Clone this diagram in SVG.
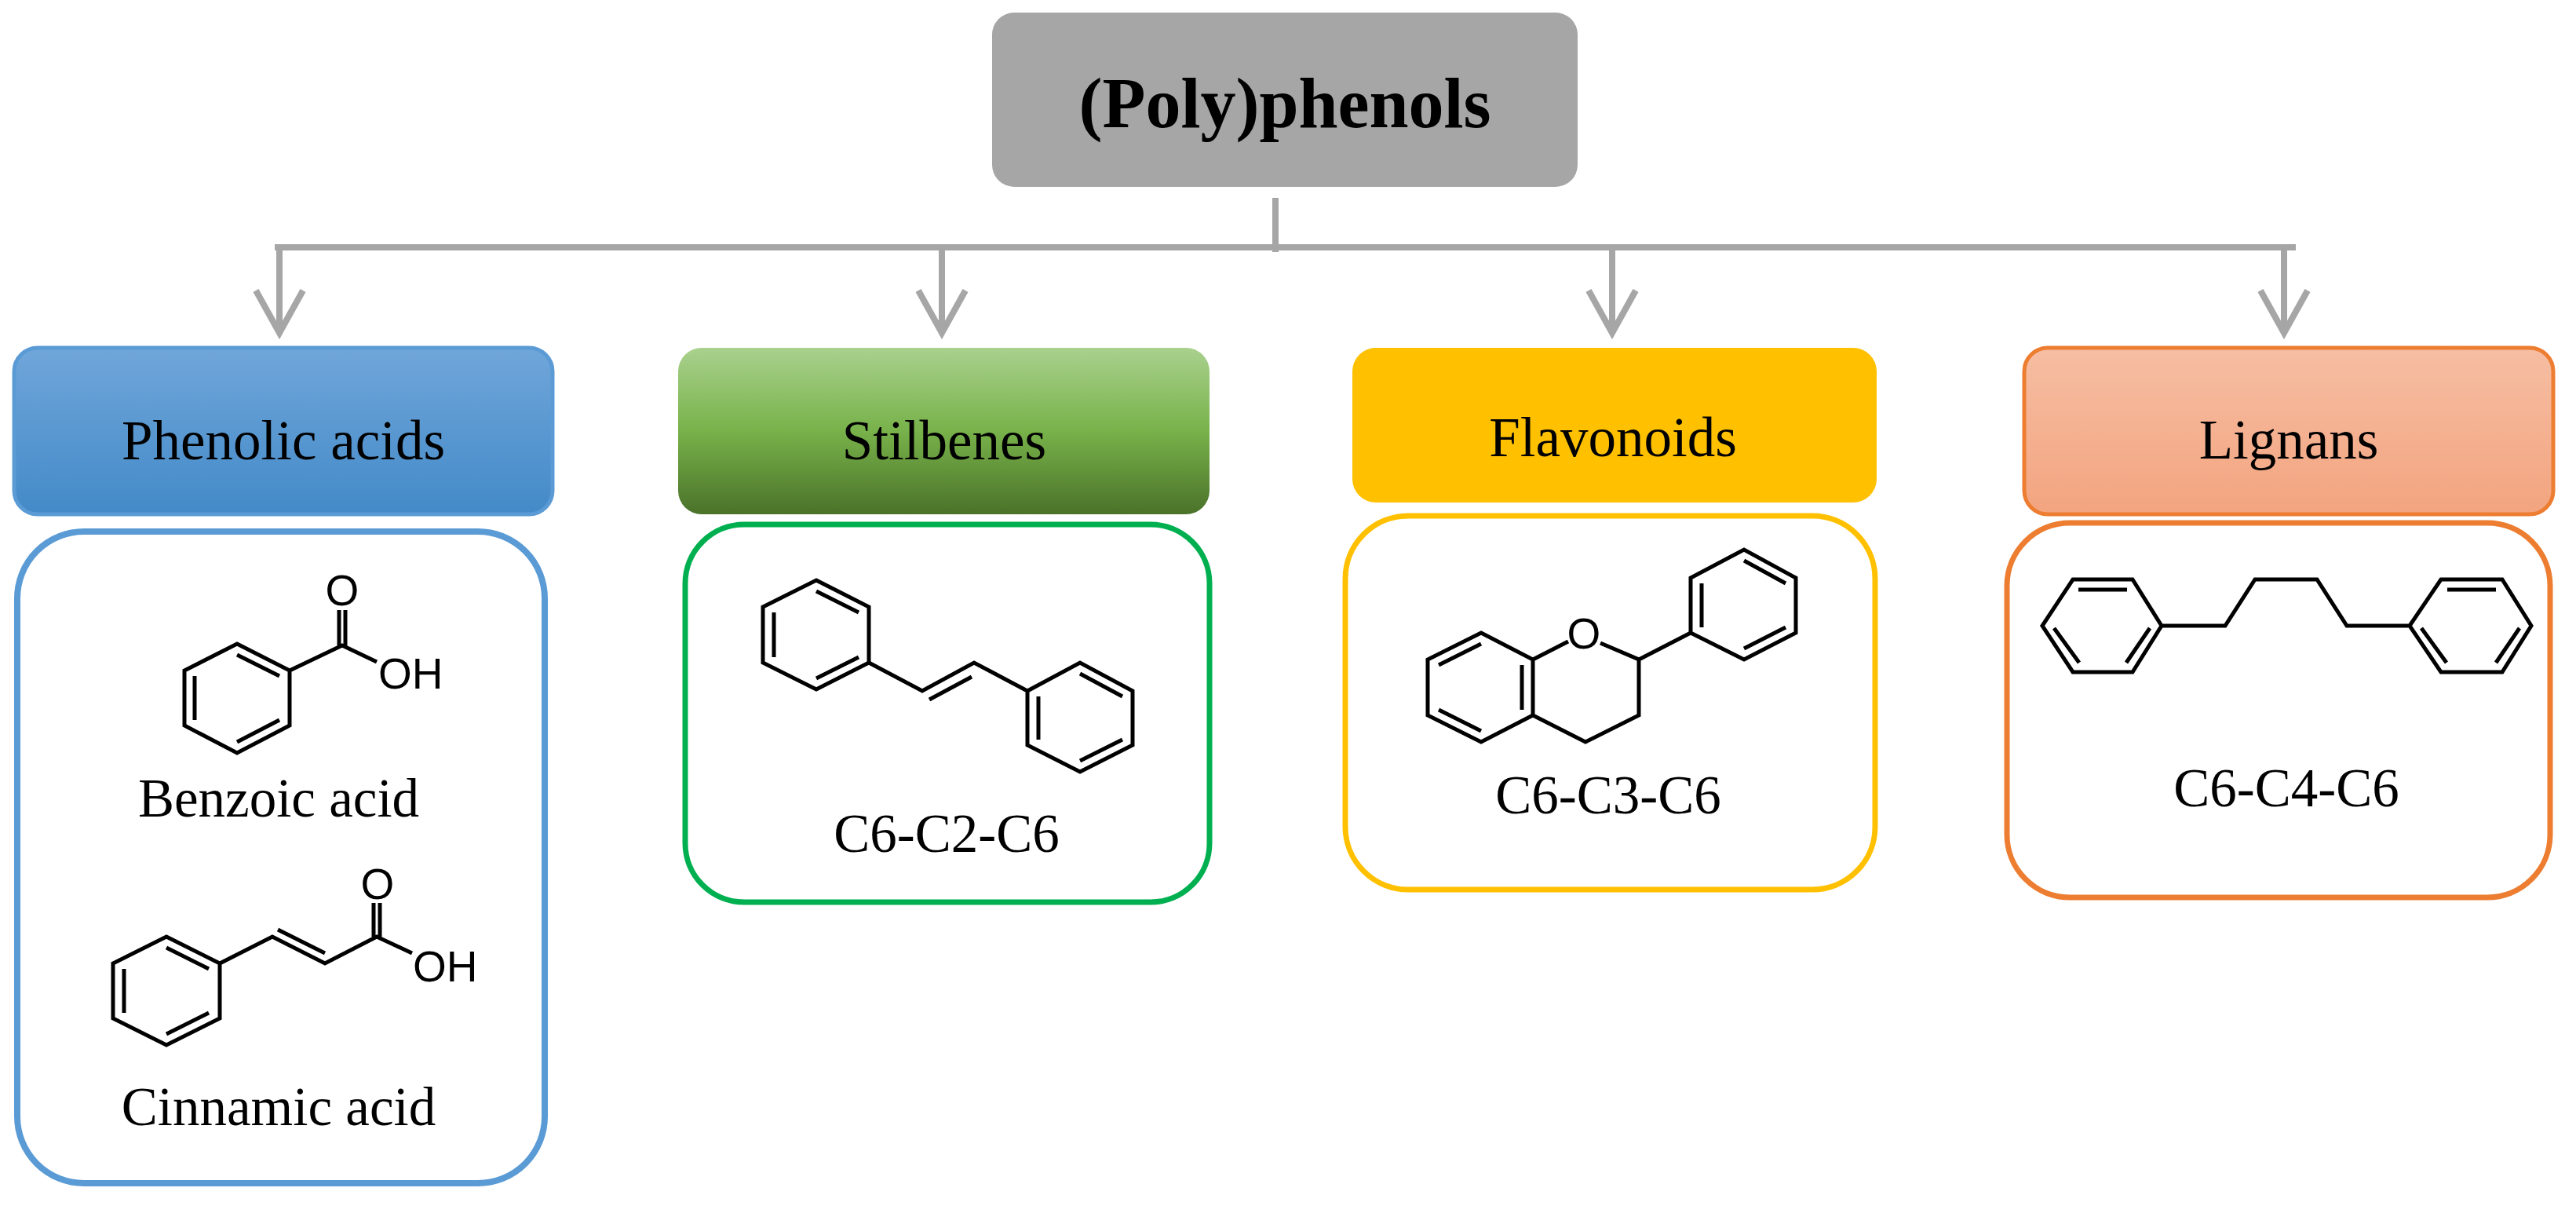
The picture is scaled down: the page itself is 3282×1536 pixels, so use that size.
<svg xmlns="http://www.w3.org/2000/svg" width="3282" height="1536" viewBox="0 0 3282 1536">
<defs>
<linearGradient id="gb" x1="0" y1="0" x2="0" y2="1"><stop offset="0" stop-color="#70a6da"/><stop offset="1" stop-color="#438ac8"/></linearGradient>
<linearGradient id="gg" x1="0" y1="0" x2="0" y2="1"><stop offset="0" stop-color="#a9d18e"/><stop offset="0.5" stop-color="#78b24a"/><stop offset="1" stop-color="#4a7229"/></linearGradient>
<linearGradient id="go" x1="0" y1="0" x2="0" y2="1"><stop offset="0" stop-color="#f6bea3"/><stop offset="1" stop-color="#f3a47f"/></linearGradient>
</defs>
<style>
.hd{font-family:"Liberation Serif",serif;font-size:71px;fill:#000;text-anchor:middle}
.lb{font-family:"Liberation Serif",serif;font-size:69px;fill:#000;text-anchor:middle}
.at{font-family:"Liberation Sans",Arial,sans-serif;font-size:55px;fill:#000}
.m{fill:none;stroke:#000;stroke-width:5;stroke-linejoin:miter;stroke-linecap:butt}
.cn{fill:none;stroke:#a6a6a6;stroke-width:8}
</style>
<rect width="3282" height="1536" fill="#fff"/>
<g id="root">
<rect x="1264" y="16" width="746" height="222" rx="28" fill="#a6a6a6"/>
<text x="1637" y="162" font-family="Liberation Serif,serif" font-weight="bold" font-size="90" text-anchor="middle">(Poly)phenols</text>
</g>
<g id="connectors">
<line x1="1625" y1="252" x2="1625" y2="321" class="cn" stroke-width="12"/>
<line x1="350" y1="315" x2="2925" y2="315" class="cn" stroke-width="12"/>
<line x1="356" y1="315" x2="356" y2="422" class="cn"/>
<polyline points="326,370 356,424 386,370" class="cn" stroke-width="9"/>
<line x1="1200" y1="315" x2="1200" y2="422" class="cn"/>
<polyline points="1170,370 1200,424 1230,370" class="cn" stroke-width="9"/>
<line x1="2054" y1="315" x2="2054" y2="422" class="cn"/>
<polyline points="2024,370 2054,424 2084,370" class="cn" stroke-width="9"/>
<line x1="2910" y1="315" x2="2910" y2="422" class="cn"/>
<polyline points="2880,370 2910,424 2940,370" class="cn" stroke-width="9"/>
</g>
<g id="phenolic-acids">
<rect x="18" y="443" width="686" height="212" rx="30" fill="url(#gb)" stroke="#5b9bd5" stroke-width="5"/>
<text x="361" y="585" class="hd">Phenolic acids</text>
</g>
<g id="stilbenes">
<rect x="864" y="443" width="677" height="212" rx="30" fill="url(#gg)"/>
<text x="1203" y="585" class="hd">Stilbenes</text>
</g>
<g id="flavonoids">
<rect x="1723" y="443" width="668" height="197" rx="30" fill="#ffc000"/>
<text x="2055" y="581" class="hd">Flavonoids</text>
</g>
<g id="lignans">
<rect x="2579" y="443" width="674" height="212" rx="30" fill="url(#go)" stroke="#ed7d31" stroke-width="5"/>
<text x="2916" y="584" class="hd">Lignans</text>
</g>
<g id="phenolic-content">
<rect x="22" y="677" width="672" height="830" rx="85" fill="#fff" stroke="#5b9bd5" stroke-width="8"/>
<path class="m" d="M302,820 L369,854 L369,924 L302,959 L235,924 L235,854 Z M302,834 L356,861 M356,917 L302,945 M248,917 L248,861 M369,854 L436,822 L480,843 M432,822 L432,777 M440,822 L440,777"/>
<text x="436" y="771" class="at" text-anchor="middle">O</text>
<text x="482" y="877" class="at">OH</text>
<text x="355" y="1040" class="lb">Benzoic acid</text>
<path class="m" d="M212,1193 L280,1227 L280,1297 L212,1331 L144,1297 L144,1227 Z M212,1207 L266,1234 M266,1290 L212,1317 M158,1290 L158,1234 M280,1227 L347,1193 L414,1227 L480,1193 L525,1214 M354,1184 L414,1214 M476,1193 L476,1150 M484,1193 L484,1150"/>
<text x="481" y="1145" class="at" text-anchor="middle">O</text>
<text x="526" y="1250" class="at">OH</text>
<text x="355" y="1433" class="lb">Cinnamic acid</text>
</g>
<g id="stilbenes-content">
<rect x="873" y="668" width="668" height="481" rx="75" fill="#fff" stroke="#00b050" stroke-width="7"/>
<path class="m" d="M1040,739 L1107,773 L1107,844 L1040,878 L972,844 L972,773 Z M1040,753 L1094,780 M1094,837 L1040,864 M986,837 L986,780 M1107,844 L1175,880 L1241,844 L1309,880 M1184,891 L1238,862 M1309,880 L1376,844 L1443,880 L1443,949 L1376,983 L1309,949 Z M1376,858 L1430,887 M1430,942 L1376,969 M1323,887 L1323,942"/>
<text x="1206" y="1085" class="lb">C6-C2-C6</text>
</g>
<g id="flavonoids-content">
<rect x="1714" y="657" width="675" height="476" rx="80" fill="#fff" stroke="#ffc000" stroke-width="7"/>
<path class="m" d="M1887,806 L1953,840 L1953,911 L1887,945 L1819,911 L1819,840 Z M1833,847 L1887,820 M1833,904 L1887,931 M1939,847 L1939,904 M1953,840 L1998,817 M2039,819 L2088,840 L2088,911 L2020,945 L1953,911 M2088,840 L2154,806 M2154,806 L2154,736 L2222,700 L2288,736 L2288,806 L2222,840 Z M2168,743 L2168,799 M2222,714 L2275,743 M2275,799 L2222,826"/>
<text x="2018" y="826" class="at" text-anchor="middle">O</text>
<text x="2049" y="1036" class="lb">C6-C3-C6</text>
</g>
<g id="lignans-content">
<rect x="2557" y="666" width="692" height="477" rx="80" fill="#fff" stroke="#ed7d31" stroke-width="7"/>
<path class="m" d="M2641,738 L2717,738 L2754,797 L2717,856 L2641,856 L2602,797 Z M2648,751 L2710,751 M2617,800 L2649,844 M2739,800 L2709,844 M2754,797 L2835,797 L2873,738 L2952,738 L2990,797 L3070,797 M3070,797 L3110,738 L3188,738 L3225,797 L3188,856 L3110,856 Z M3118,751 L3180,751 M3085,800 L3117,844 M3210,800 L3180,844"/>
<text x="2913" y="1027" class="lb">C6-C4-C6</text>
</g>
</svg>
